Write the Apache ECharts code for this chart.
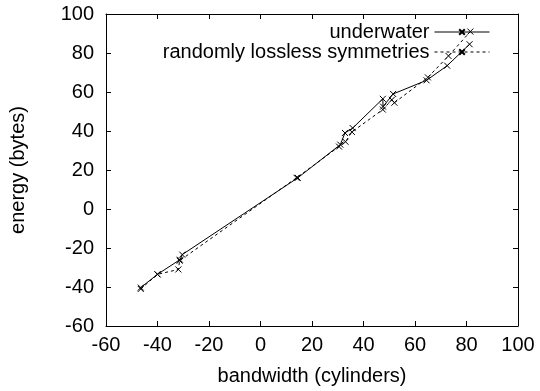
<!DOCTYPE html>
<html>
<head>
<meta charset="utf-8">
<script src="https://cdn.jsdelivr.net/npm/echarts@6/dist/echarts.min.js"></script>
<style>
  html, body { margin: 0; padding: 0; background: #fff; }
  #chart { width: 540px; height: 391px; }
</style>
</head>
<body>
<div id="chart"></div>
<script>
// series names
const seriesNames = ['underwater', 'randomly lossless symmetries'];

// [bandwidth, energy] pairs, in plot order
const underwater = [
  [-46.5, -40.3], [-40, -33.5], [-31.3, -26], [-30.4, -23.4], [14.5, 16],
  [31, 33], [32.8, 39], [35.8, 41.5], [47.5, 56.5], [47.6, 52.5],
  [51.5, 59], [64.5, 66], [72.5, 73.5], [81.2, 84.5]
];
const randomlyLossless = [
  [-46.5, -41], [-40, -33.5], [-31.9, -31], [-31.4, -26.5], [14, 16],
  [30.5, 32], [33, 34.5], [35.5, 39.5], [47.5, 51], [51, 56],
  [52, 54.5], [65, 67.5], [73, 78.5], [81.5, 91]
];

// axis ranges / tick labels
const xTicks = [-60, -40, -20, 0, 20, 40, 60, 80, 100];
const yTicks = [-60, -40, -20, 0, 20, 40, 60, 80, 100];

const FONT = 'Liberation Sans, Arial, sans-serif';
const FS = 20;
const crossSymbol = 'path://M0,0L10,10M10,0L0,10';

const chart = echarts.init(document.getElementById('chart'), null, { renderer: 'canvas' });

const axisCommon = {
  axisLine: { show: true, onZero: false, lineStyle: { color: '#000', width: 1 } },
  axisTick: { show: true, inside: true, length: 5, lineStyle: { color: '#000' } },
  splitLine: { show: false }
};

function makeSeries(name, data, type) {
  return {
    name: name,
    type: 'line',
    data: data,
    symbol: crossSymbol,
    symbolSize: 6,
    showAllSymbol: true,
    animation: false,
    lineStyle: { color: '#000', width: 1, type: type },
    itemStyle: { color: '#000', borderColor: '#000', borderWidth: 1 },
    emphasis: { disabled: true }
  };
}

function makeLegend(name, top) {
  return {
    data: [name],
    right: 45, top: top,
    align: 'right',
    itemWidth: 55, itemHeight: 7, itemGap: 15,
    lineStyle: { width: 1 },
    textStyle: { fontFamily: FONT, fontSize: FS, color: '#000', padding: [0, 0, 0, 0] }
  };
}

const option = {
  backgroundColor: '#fff',
  animation: false,
  grid: { left: 102, right: 22, top: 14, bottom: 65 },
  legend: [
    makeLegend(seriesNames[0], 17),
    makeLegend(seriesNames[1], 37)
  ],
  xAxis: [
    Object.assign({
      type: 'value',
      min: xTicks[0], max: xTicks[xTicks.length - 1], interval: 20,
      name: 'bandwidth (cylinders)',
      nameLocation: 'middle', nameGap: 40,
      nameTextStyle: { fontFamily: FONT, fontSize: FS, color: '#000' },
      axisLabel: { fontFamily: FONT, fontSize: FS, color: '#000', margin: 9 }
    }, axisCommon),
    Object.assign({
      type: 'value', position: 'top',
      min: xTicks[0], max: xTicks[xTicks.length - 1], interval: 20,
      axisLabel: { show: false }
    }, axisCommon)
  ],
  yAxis: [
    Object.assign({
      type: 'value',
      min: yTicks[0], max: yTicks[yTicks.length - 1], interval: 20,
      name: 'energy (bytes)',
      nameLocation: 'middle', nameGap: 78,
      nameTextStyle: { fontFamily: FONT, fontSize: FS, color: '#000' },
      axisLabel: { fontFamily: FONT, fontSize: FS, color: '#000', margin: 12 }
    }, axisCommon),
    Object.assign({
      type: 'value', position: 'right',
      min: yTicks[0], max: yTicks[yTicks.length - 1], interval: 20,
      axisLabel: { show: false }
    }, axisCommon)
  ],
  series: [
    makeSeries(seriesNames[0], underwater, 'solid'),
    makeSeries(seriesNames[1], randomlyLossless, [3, 3])
  ]
};

chart.setOption(option);
</script>
</body>
</html>
